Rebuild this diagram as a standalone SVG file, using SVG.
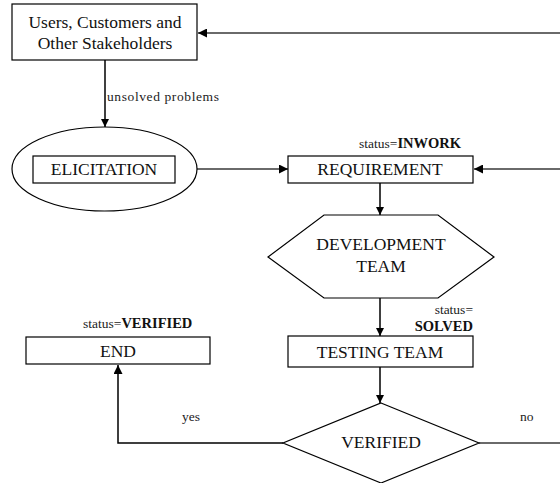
<svg xmlns="http://www.w3.org/2000/svg" width="560" height="483" viewBox="0 0 560 483">
  <style>
    text { font-family: "Liberation Serif", "DejaVu Serif", serif; }
    .box { fill: #fff; stroke: #000; stroke-width: 1.2; }
    .lbl { font-size: 17.5px; fill: #111; text-anchor: middle; }
    .sm { font-size: 13.5px; fill: #222; }
    .st { font-weight: bold; font-size: 14.5px; fill: #111; }
    .wire { fill: none; stroke: #000; stroke-width: 1.5; }
    .grey { fill: none; stroke: #6a6a6a; stroke-width: 2.2; }
  </style>
  <defs>
    <marker id="arr" viewBox="0 0 10 10" refX="10" refY="5" markerWidth="8" markerHeight="8" markerUnits="userSpaceOnUse" orient="auto">
      <path d="M0,0 L10,5 L0,10 Z" fill="#000"/>
    </marker>
    <marker id="arrW" viewBox="0 0 10 10" refX="10" refY="5" markerWidth="9" markerHeight="9" markerUnits="userSpaceOnUse" orient="auto">
      <path d="M0,0 L10,5 L0,10 Z" fill="#000"/>
    </marker>
  </defs>

  <rect width="560" height="483" fill="#fff"/>

  <g id="connectors">
    <line class="grey" x1="560" y1="33" x2="198" y2="33" marker-end="url(#arrW)"/>
    <line class="wire" x1="105" y1="60" x2="105" y2="127" marker-end="url(#arr)"/>
    <line class="grey" x1="197" y1="169" x2="288" y2="169" marker-end="url(#arrW)"/>
    <line class="grey" x1="560" y1="169" x2="474" y2="169" marker-end="url(#arrW)"/>
    <line class="wire" x1="380" y1="183" x2="380" y2="215" marker-end="url(#arr)"/>
    <line class="wire" x1="380" y1="298" x2="380" y2="336" marker-end="url(#arr)"/>
    <line class="wire" x1="380" y1="367" x2="380" y2="403" marker-end="url(#arr)"/>
    <polyline class="wire" points="283,443 118,443 118,365" marker-end="url(#arrW)"/>
    <line class="grey" x1="479" y1="443" x2="560" y2="443"/>
    <text class="sm" x="107" y="101" textLength="112">unsolved problems</text>
    <text class="sm" x="182" y="421">yes</text>
    <text class="sm" x="520" y="421">no</text>
  </g>

  <g id="stakeholders">
    <rect class="box" x="12" y="4" width="185" height="56"/>
    <text class="lbl" x="105" y="28">Users, Customers and</text>
    <text class="lbl" x="105" y="49">Other Stakeholders</text>
  </g>

  <g id="elicitation">
    <ellipse class="box" cx="104.5" cy="169" rx="92.5" ry="42"/>
    <rect class="box" x="33" y="156" width="142" height="27"/>
    <text class="lbl" x="104" y="175">ELICITATION</text>
  </g>

  <g id="requirement">
    <text class="sm" x="359" y="148">status=<tspan class="st">INWORK</tspan></text>
    <rect class="box" x="288" y="156" width="185" height="27"/>
    <text class="lbl" x="380" y="175">REQUIREMENT</text>
  </g>

  <g id="development">
    <polygon class="box" points="324,215 438,215 494,257 438,298 324,298 268,257"/>
    <text class="lbl" x="381" y="250">DEVELOPMENT</text>
    <text class="lbl" x="381" y="272">TEAM</text>
  </g>

  <g id="testing">
    <text class="sm" x="473" y="314" text-anchor="end">status=</text>
    <text class="sm st" x="473" y="331" text-anchor="end">SOLVED</text>
    <rect class="box" x="288" y="336" width="185" height="31"/>
    <text class="lbl" x="380" y="358">TESTING TEAM</text>
  </g>

  <g id="verified">
    <polygon class="box" points="381,403 479,443 381,483 283,443"/>
    <text class="lbl" x="381" y="448">VERIFIED</text>
  </g>

  <g id="end">
    <text class="sm" x="83" y="328">status=<tspan class="st">VERIFIED</tspan></text>
    <rect class="box" x="26" y="337" width="184" height="27"/>
    <text class="lbl" x="118" y="357">END</text>
  </g>
</svg>
